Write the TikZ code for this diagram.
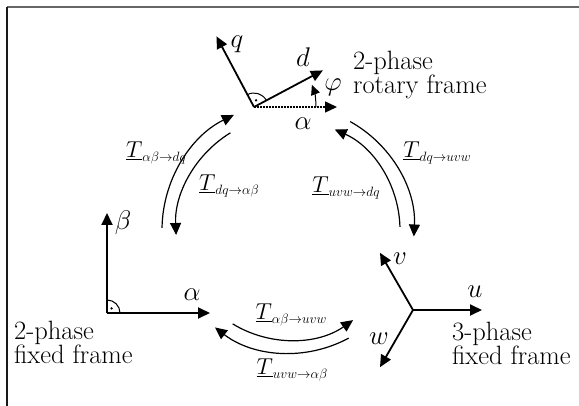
\RequirePackage{fix-cm}
\documentclass[tikz,border=0pt]{standalone}
\usetikzlibrary{arrows.meta,calc}
\newcommand{\tlab}[1]{{\fontsize{23}{25}\selectfont$\underline{T}$}\raisebox{-3.5pt}{\fontsize{13.5}{14}\selectfont$#1$}}
\tikzset{
  axis/.style={line width=1.8pt, -{Triangle[length=12pt,width=11pt]}},
  tr/.style={line width=1.2pt, -{Triangle[length=12pt,width=11pt]}},
  lbl/.style={inner sep=0pt, font=\fontsize{27}{29}\selectfont},
  txt/.style={inner sep=0pt, align=left, font=\fontsize{26.5}{21}\selectfont, anchor=base west},
  tlbl/.style={inner sep=0pt},
  topline/.style={line width=1.8pt, draw=black!60},
  leftline/.style={line width=1.5pt, draw=black!90},
  rmark/.style={line width=1pt},
}
\begin{document}
\begin{tikzpicture}[x=1pt,y=-1pt]
\useasboundingbox (0,0) rectangle (579,406);
% border
\coordinate (tl) at (7,7);
\coordinate (tr0) at (579,7);
\coordinate (bl) at (7,406);
\draw[topline] (tr0) -- (tl);
\draw[leftline] (tl) -- (bl);
% centre of the cycle
\coordinate (C) at (290,230);
% ---------- 2-phase rotary frame
\coordinate (O1) at (254,107);
\coordinate (D) at ($(O1)+(-28:78)$);
\coordinate (Q) at ($(O1)+(-118:80)$);
\coordinate (A1) at (337,107);
\coordinate (P0) at ($(O1)+(0:62)$);
\draw[axis] (O1) -- (D);
\draw[axis] (O1) -- (Q);
\draw[line width=1.5pt, dash pattern=on 1.5pt off 1.5pt, -{Triangle[length=12pt,width=11pt]}] (O1) -- (A1);
\draw[line width=1pt, -{Triangle[length=10pt,width=9pt]}] (P0) arc[start angle=0, end angle=-21, radius=62];
\draw[rmark] ($(O1)+(-28:14)$) arc[start angle=-28, end angle=-118, radius=14];
\fill ($(O1)+(-73:7)$) circle (1.3pt);
\node[lbl] (ql) at (237,44) {$q$};
\node[lbl] (dl) at (303,57) {$d$};
\node[lbl] (phil) at (333,87) {$\varphi$};
\node[lbl] (al1) at (303,124) {$\alpha$};
\node[txt] (rot) at (353,94) {2-phase\\rotary frame};
% ---------- 2-phase fixed frame
\coordinate (O2) at (107,313);
\coordinate (B2) at (107,213);
\coordinate (A2) at (210,313);
\draw[axis] (O2) -- (B2);
\draw[axis] (O2) -- (A2);
\draw[rmark] ($(O2)+(0:13)$) arc[start angle=0, end angle=-90, radius=13];
\fill ($(O2)+(-45:6.5)$) circle (1.3pt);
\node[lbl] (bl2) at (123,223) {$\beta$};
\node[lbl] (al2) at (192,295) {$\alpha$};
\node[txt] (fix2) at (14,364) {2-phase\\fixed frame};
% ---------- 3-phase fixed frame
\coordinate (O3) at (413,310);
\coordinate (U) at (482,310);
\coordinate (V) at ($(O3)+(-120:66)$);
\coordinate (W) at ($(O3)+(-240:66)$);
\draw[axis] (O3) -- (U);
\draw[axis] (O3) -- (V);
\draw[axis] (O3) -- (W);
\node[lbl] (ul) at (475,292) {$u$};
\node[lbl] (vl) at (400,259) {$v$};
\node[lbl] (wl) at (379,339) {$w$};
\node[txt] (fix3) at (452,365) {3-phase\\fixed frame};
% ---------- transformation arrows
\coordinate (s1) at ($(C)+(-179:128)$);
\coordinate (s2) at ($(C)+(-121.5:114)$);
\coordinate (s3) at ($(C)+(-61:124)$);
\coordinate (s4) at ($(C)+(-1.6:110)$);
\coordinate (s5) at ($(C)+(-238.6:110)$);
\coordinate (s6) at ($(C)+(-298.5:123)$);
\draw[tr] (s1) arc[start angle=-179, end angle=-116, radius=128];
\draw[tr] (s2) arc[start angle=-121.5, end angle=-182.5, radius=114];
\draw[tr] (s3) arc[start angle=-61, end angle=3, radius=124];
\draw[tr] (s4) arc[start angle=-1.6, end angle=-66, radius=110];
\draw[tr] (s5) arc[start angle=-238.6, end angle=-305, radius=110];
\draw[tr] (s6) arc[start angle=-298.5, end angle=-232.4, radius=123];
\node[tlbl] (t1) at (156,153) {\tlab{\alpha\beta{\rightarrow}dq}};
\node[tlbl] (t2) at (229,186) {\tlab{dq{\rightarrow}\alpha\beta}};
\node[tlbl] (t3) at (437,153) {\tlab{dq{\rightarrow}uvw}};
\node[tlbl] (t4) at (346,188) {\tlab{uvw{\rightarrow}dq}};
\node[tlbl] (t5) at (291,315) {\tlab{\alpha\beta{\rightarrow}uvw}};
\node[tlbl] (t6) at (292,370) {\tlab{uvw{\rightarrow}\alpha\beta}};
\end{tikzpicture}
\end{document}
